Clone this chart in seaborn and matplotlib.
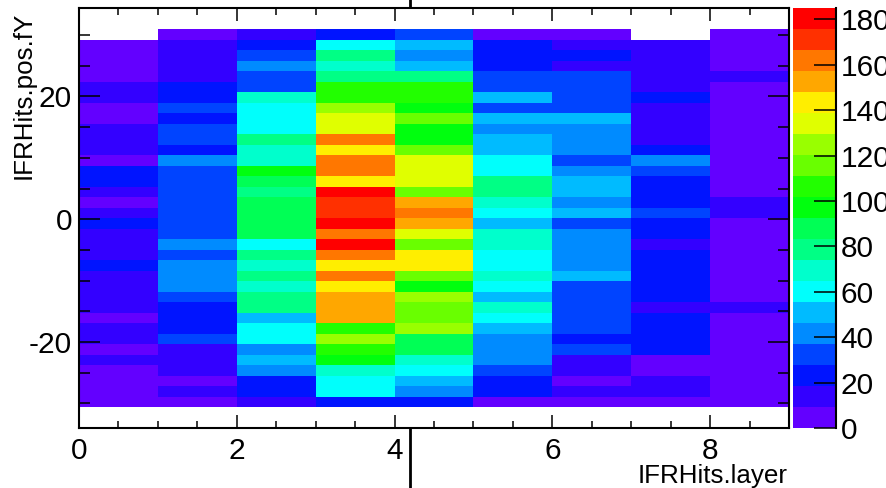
import colorsys
import numpy as np
import pandas as pd
import matplotlib
matplotlib.use("Agg")
import matplotlib.pyplot as plt
from matplotlib.colors import ListedColormap
from matplotlib.lines import Line2D
from matplotlib.ticker import FixedLocator, MultipleLocator
import seaborn as sns

# ---------------- data ----------------
layers = [0, 1, 2, 3, 4, 5, 6, 7, 8]
y_min, y_max, n_ybins = -34.0, 34.4, 40
first_filled_bin = 2          # bins counted from the top (high y)

# hit counts per layer, y bins from top (high fY) to bottom; 0 = empty
layer0 = [0, 5, 5, 5, 5, 14, 14, 5, 5, 14, 14, 14, 5, 23, 23, 14, 5, 14, 23, 14,
          14, 14, 23, 14, 14, 14, 14, 5, 14, 14, 5, 14, 5, 5, 5, 5]
layer1 = [5, 14, 14, 14, 14, 23, 23, 32, 23, 32, 32, 23, 42, 32, 32, 32, 32, 32, 32, 32,
          42, 32, 42, 42, 42, 32, 23, 23, 23, 32, 14, 14, 14, 5, 14, 5]
layer2 = [14, 23, 32, 42, 32, 32, 69, 60, 60, 60, 79, 69, 69, 97, 88, 79, 88, 88, 88, 88,
          60, 79, 69, 79, 69, 79, 79, 51, 60, 60, 42, 51, 42, 23, 23, 14]
layer3 = [23, 60, 79, 69, 79, 106, 106, 125, 134, 134, 162, 143, 162, 162, 143, 185, 171, 171, 180, 162,
          180, 162, 143, 162, 143, 153, 153, 153, 106, 125, 106, 97, 69, 60, 60, 23]
layer4 = [32, 51, 42, 51, 79, 106, 106, 97, 116, 97, 97, 116, 134, 134, 134, 116, 153, 162, 153, 134,
          116, 143, 143, 116, 97, 125, 116, 116, 125, 88, 88, 69, 60, 51, 42, 23]
layer5 = [5, 23, 23, 23, 32, 32, 51, 32, 51, 42, 51, 51, 60, 60, 79, 79, 69, 60, 51, 69,
          69, 60, 60, 69, 60, 51, 69, 60, 51, 42, 42, 42, 32, 23, 23, 5]
layer6 = [5, 14, 23, 14, 32, 32, 32, 32, 51, 42, 42, 42, 32, 42, 51, 51, 42, 51, 32, 42,
          42, 42, 42, 51, 32, 32, 32, 32, 32, 23, 32, 14, 14, 5, 14, 5]
layer7 = [0, 14, 14, 14, 14, 14, 23, 14, 14, 14, 14, 23, 42, 32, 23, 23, 23, 32, 23, 23,
          14, 23, 23, 23, 23, 23, 14, 23, 23, 23, 23, 5, 5, 14, 14, 5]
layer8 = [5, 5, 5, 5, 14, 5, 5, 5, 5, 5, 5, 5, 5, 5, 5, 5, 14, 14, 5, 5,
          5, 5, 5, 5, 5, 5, 14, 5, 5, 5, 5, 5, 5, 5, 5, 5]

y_major = [20, 0, -20]
y_minor = [30, 25, 15, 10, 5, -5, -10, -15, -25, -30]
x_major = [0, 2, 4, 6, 8]
z_ticks = [0, 20, 40, 60, 80, 100, 120, 140, 160, 180]

# ---------------- table ----------------
cols = [layer0, layer1, layer2, layer3, layer4, layer5, layer6, layer7, layer8]
grid = np.zeros((n_ybins, len(layers)))
for j, col in enumerate(cols):
    grid[first_filled_bin:first_filled_bin + len(col), j] = col
bw = (y_max - y_min) / n_ybins
centers = [round(y_max - (i + 0.5) * bw, 2) for i in range(n_ybins)]
df = pd.DataFrame(grid, index=centers, columns=layers)

# ROOT "pretty" palette with 20 contour levels
n_lev = 20
pal = []
for k in range(n_lev):
    idx = int((k + 0.99) * 50 / n_lev)
    hue = 280 - (idx + 1) * 280 / 50
    pal.append(colorsys.hls_to_rgb(hue / 360.0, 0.5, 1.0))
cmap = ListedColormap(pal)
vmax = float(np.max(grid))

# ---------------- figure ----------------
plt.rcParams['font.family'] = ['Liberation Sans', 'DejaVu Sans']
plt.rcParams['axes.unicode_minus'] = False

W, H = 887, 488
fig = plt.figure(figsize=(W / 100, H / 100), dpi=100)
ax = fig.add_axes([79 / W, 1 - 428 / H, 710 / W, 420 / H])
cax = fig.add_axes([793 / W, 1 - 428 / H, 43 / W, 420 / H])

sns.heatmap(df, ax=ax, cbar_ax=cax, cmap=cmap, vmin=0, vmax=vmax,
            mask=(df == 0), xticklabels=False, yticklabels=False, linewidths=0)

ax.set_xlabel("")
ax.set_ylabel("")
for s in ax.spines.values():
    s.set_visible(True)
    s.set_linewidth(1.5)
    s.set_color("black")

def yrow(v):
    return (y_max - v) / bw

ax.xaxis.set_major_locator(FixedLocator(x_major))
ax.set_xticklabels([str(v) for v in x_major])
ax.xaxis.set_minor_locator(MultipleLocator(0.5))
ax.yaxis.set_major_locator(FixedLocator([yrow(v) for v in y_major]))
ax.set_yticklabels([str(v) for v in y_major], rotation=0)
ax.yaxis.set_minor_locator(FixedLocator([yrow(v) for v in y_minor]))

ax.tick_params(which="both", direction="in", top=True, right=True,
               width=1.1, color="black", labelsize=21.5)
ax.tick_params(axis="x", which="major", length=9.4, pad=6.8)
ax.tick_params(axis="x", which="minor", length=4.7)
ax.tick_params(axis="y", which="major", length=15.3, pad=5)
ax.tick_params(axis="y", which="minor", length=7.6)

# colour bar
cb = ax.collections[0].colorbar
cb.outline.set_visible(False)
cax.set_yticks(z_ticks)
cax.set_yticklabels([str(v) for v in z_ticks])
cax.yaxis.set_ticks_position("right")
cax.tick_params(axis="y", which="major", direction="in", length=15.5, width=1.1,
                labelsize=21.5, pad=3.5)
cax.minorticks_off()
cax.plot([1, 1], [0, 1], transform=cax.transAxes, color="black", lw=1.5,
         clip_on=False)

# axis titles
fig.text(788 / W, 1 - 482.5 / H, "IFRHits.layer", ha="right", va="baseline",
         fontsize=18.7)
fig.text(12 / W, 1 - 12 / H, "IFRHits.pos.fY", ha="left", va="top",
         rotation=90, fontsize=18.7)

# pad divider line fragments
fig.add_artist(Line2D([410 / W, 410 / W], [1 - 7 / H, 1.0], color="black", lw=2))
fig.add_artist(Line2D([410 / W, 410 / W], [0.0, 1 - 429 / H], color="black", lw=2))

fig.savefig("out.png", dpi=100)
